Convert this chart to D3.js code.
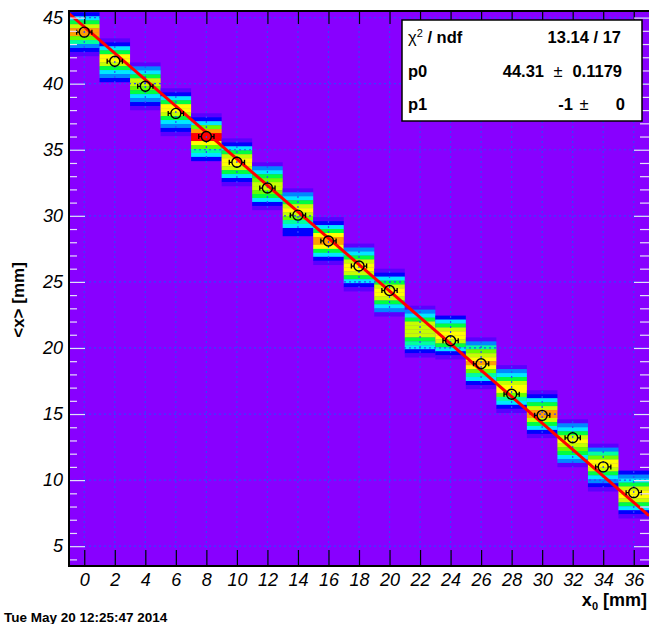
<html>
  <head>
    <script src="https://d3js.org/d3.v7.min.js"></script>
    <style>
      body { margin: 0; background: #fff; }
      text { font-family: "Liberation Sans", Arial, sans-serif; }
    </style>
  </head>
  <body>
    <svg id="chart" width="649" height="624"></svg>
    <script>
      // bin centres along x0 (2 mm bins)
      const xCenters = [0, 2, 4, 6, 8, 10, 12, 14, 16, 18, 20, 22, 24, 26, 28, 30, 32, 34, 36];
      // profile means <x>, read off the markers (22 has no marker)
      const meanY = [43.9, 41.7, 39.8, 37.75, 36.0, 34.05, 32.1, 30.05, 28.1, 26.2, 24.35, null, 20.55, 18.8, 16.5, 14.9, 13.2, 11.0, 9.05];
      // top edge (in <x>) of the filled block of each column
      const colTop = [45.4, 43.43, 41.61, 39.65, 37.76, 35.86, 34.05, 32.08, 29.9, 27.9, 26.0, 23.2, 22.45, 20.8, 18.7, 16.8, 14.6, 12.76, 10.72];
      // colour level of each y bin, top to bottom (0 = empty)
      const colLevels = [
        [2, 4, 6, 8, 10, 10, 7, 5, 3, 2, 1],
        [1, 2, 4, 6, 9, 9, 8, 6, 4, 3, 2],
        [1, 3, 4, 6, 8, 8, 7, 6, 4, 3, 2, 1],
        [1, 2, 4, 6, 9, 9, 8, 6, 4, 3, 2, 1],
        [1, 2, 4, 7, 10, 11, 11, 9, 7, 5, 4, 2],
        [1, 2, 4, 6, 8, 9, 9, 8, 6, 4, 2, 1],
        [1, 3, 4, 6, 7, 8, 8, 7, 6, 4, 2, 1],
        [1, 3, 4, 6, 8, 9, 8, 7, 5, 4, 2, 2],
        [1, 2, 4, 6, 9, 10, 10, 9, 6, 4, 2, 1],
        [1, 3, 4, 6, 8, 9, 9, 8, 6, 4, 2, 1],
        [1, 2, 4, 6, 8, 9, 9, 8, 6, 4, 3, 1],
        [1, 3, 4, 6, 8, 8, 8, 8, 6, 5, 4, 2, 1],
        [2, 4, 6, 8, 9, 9, 8, 6, 4, 2, 1],
        [1, 3, 5, 7, 8, 9, 10, 9, 7, 5, 4, 2, 1],
        [1, 3, 4, 6, 8, 9, 9, 7, 5, 4, 2, 1],
        [1, 2, 4, 6, 8, 10, 10, 8, 6, 4, 2, 1],
        [1, 3, 4, 6, 8, 9, 8, 7, 6, 4, 3, 1],
        [1, 3, 5, 7, 9, 9, 8, 6, 4, 3, 2, 1],
        [2, 3, 4, 6, 8, 9, 9, 8, 6, 4, 2, 1]
      ];
      const binH = 0.3;
      const fitP0 = 44.31, fitP1 = -1;
      const xTicks = d3.range(0, 37, 2);
      const yTicks = [5, 10, 15, 20, 25, 30, 35, 40, 45];
      const yMinor = d3.range(4, 46, 1);

      const palette = ["#8800ff", "#5a00ff", "#0000ff", "#0088ff", "#00e8ff", "#00ffa0",
                       "#00ff40", "#66ff00", "#c4ff00", "#ffff00", "#ffa000", "#ff0000"];

      const svg = d3.select("#chart");
      const L = 69, R = 649, T = 11, B = 566;

      const x = d3.scaleLinear().domain([-1, 37]).range([L, R]);
      const y = d3.scaleLinear().domain([3.5, 45.5]).range([B, T]);

      svg.append("clipPath").attr("id", "frame")
        .append("rect").attr("x", L).attr("y", T).attr("width", R - L).attr("height", B - T);

      const plot = svg.append("g").attr("clip-path", "url(#frame)");

      plot.append("rect")
        .attr("x", L).attr("y", T).attr("width", R - L).attr("height", B - T)
        .style("fill", palette[0]);

      // 2D histogram cells
      const cells = [];
      xCenters.forEach((c, i) => {
        colLevels[i].forEach((lv, j) => {
          cells.push({ x0: c - 1, x1: c + 1, yTop: colTop[i] - j * binH, yBot: colTop[i] - (j + 1) * binH, lv: lv });
        });
      });

      plot.selectAll("rect.cell")
        .data(cells)
        .join("rect")
        .attr("class", "cell")
        .attr("x", d => x(d.x0))
        .attr("width", d => x(d.x1) - x(d.x0))
        .attr("y", d => y(d.yTop))
        .attr("height", d => y(d.yBot) - y(d.yTop) + 0.3)
        .style("fill", d => palette[d.lv]);

      // tick marks
      const tickColor = "#e6ddfa";
      svg.append("g").attr("transform", `translate(0,${B})`)
        .call(d3.axisBottom(x).tickValues(xTicks).tickSizeInner(-16).tickSizeOuter(0).tickPadding(7)
          .tickFormat(d3.format("d")))
        .call(g => g.select(".domain").remove())
        .call(g => g.selectAll("line").style("stroke", "#000").style("stroke-width", 1.2))
        .call(g => g.selectAll("text").style("font-size", "18px").style("font-style", "italic").style("fill", "#000"));

      svg.append("g").attr("transform", `translate(0,${T})`)
        .call(d3.axisTop(x).tickValues(xTicks).tickSizeInner(-13).tickSizeOuter(0).tickFormat(""))
        .call(g => g.select(".domain").remove())
        .call(g => g.selectAll("line").style("stroke", "#000").style("stroke-width", 1.2));

      svg.append("g").attr("transform", `translate(${L},0)`)
        .call(d3.axisLeft(y).tickValues(yMinor.filter(v => v % 5 !== 0)).tickSizeInner(-8).tickSizeOuter(0).tickFormat(""))
        .call(g => g.select(".domain").remove())
        .call(g => g.selectAll("line").style("stroke", tickColor).style("stroke-width", 1.2));

      svg.append("g").attr("transform", `translate(${L},0)`)
        .call(d3.axisLeft(y).tickValues(yTicks).tickSizeInner(-16).tickSizeOuter(0).tickPadding(6))
        .call(g => g.select(".domain").remove())
        .call(g => g.selectAll("line").style("stroke", tickColor).style("stroke-width", 1.2))
        .call(g => g.selectAll("text").style("font-size", "18px").style("font-style", "italic").style("fill", "#000"));

      svg.append("g").attr("transform", `translate(${R},0)`)
        .call(d3.axisRight(y).tickValues(yMinor.filter(v => v % 5 !== 0)).tickSizeInner(-9).tickSizeOuter(0).tickFormat(""))
        .call(g => g.select(".domain").remove())
        .call(g => g.selectAll("line").style("stroke", tickColor).style("stroke-width", 1.2));

      svg.append("g").attr("transform", `translate(${R},0)`)
        .call(d3.axisRight(y).tickValues(yTicks).tickSizeInner(-15).tickSizeOuter(0).tickFormat(""))
        .call(g => g.select(".domain").remove())
        .call(g => g.selectAll("line").style("stroke", tickColor).style("stroke-width", 1.2));

      // dotted grid
      const grid = plot.append("g");
      grid.selectAll("line.gx").data(xTicks).join("line")
        .attr("class", "gx")
        .attr("x1", d => x(d)).attr("x2", d => x(d))
        .attr("y1", T).attr("y2", B);
      grid.selectAll("line.gy").data(yTicks).join("line")
        .attr("class", "gy")
        .attr("x1", L).attr("x2", R)
        .attr("y1", d => y(d)).attr("y2", d => y(d));
      grid.selectAll("line")
        .style("stroke", "#2f46ff")
        .style("stroke-width", 1.2)
        .style("stroke-dasharray", "2,3");

      // fit line
      const fitLine = d3.line().x(d => x(d)).y(d => y(fitP0 + fitP1 * d));
      plot.append("path")
        .datum([-1, 37])
        .attr("d", fitLine)
        .style("fill", "none")
        .style("stroke", "#ff0000")
        .style("stroke-width", 3);

      // profile markers with x errors
      const pts = xCenters.map((c, i) => ({ c: c, m: meanY[i] })).filter(d => d.m !== null);
      const mk = plot.selectAll("g.pt").data(pts).join("g")
        .attr("class", "pt")
        .attr("transform", d => `translate(${x(d.c)},${y(d.m)})`);
      const ex = x(0.5) - x(0);
      mk.append("path")
        .attr("d", `M${-ex},0H-5M5,0H${ex}M${-ex},-2.5V2.5M${ex},-2.5V2.5`)
        .style("stroke", "#000").style("stroke-width", 1.3).style("fill", "none");
      mk.append("circle")
        .attr("r", 5)
        .style("fill", "none").style("stroke", "#000").style("stroke-width", 1.4);

      // frame
      svg.append("path")
        .attr("d", `M${R},${T}H${L}V${B}H${R}`)
        .style("fill", "none").style("stroke", "#000").style("stroke-width", 2);

      // stats box
      const sb = svg.append("g");
      sb.append("rect")
        .attr("x", 402).attr("y", 20).attr("width", 240).attr("height", 101)
        .style("fill", "#fff").style("stroke", "#000").style("stroke-width", 1.5);
      const st = (xx, yy, txt, anchor) => sb.append("text")
        .attr("x", xx).attr("y", yy).attr("text-anchor", anchor || "start")
        .style("font-size", "16.5px").style("font-weight", "bold").text(txt);
      const chi = sb.append("text").attr("x", 408).attr("y", 43)
        .style("font-size", "16.5px").style("font-weight", "bold");
      chi.append("tspan").style("font-weight", "normal").text("χ");
      chi.append("tspan").attr("dy", -6).style("font-size", "11px").style("font-weight", "normal").text("2");
      chi.append("tspan").attr("dy", 6).text(" / ndf");
      st(621, 43, "13.14 / 17", "end");
      st(408, 77, "p0");
      st(544, 77, "44.31", "end");
      st(558, 77, "±", "middle").style("font-weight", "normal");
      st(622, 77, "0.1179", "end");
      st(408, 110, "p1");
      st(573, 110, "-1", "end");
      st(584, 110, "±", "middle").style("font-weight", "normal");
      st(625, 110, "0", "end");

      // axis titles
      const xt = svg.append("text").attr("x", 647).attr("y", 606).attr("text-anchor", "end")
        .style("font-size", "18px").style("font-weight", "bold");
      xt.append("tspan").text("x");
      xt.append("tspan").attr("dy", 4).style("font-size", "11px").text("0");
      xt.append("tspan").attr("dy", -4).text(" [mm]");

      svg.append("text")
        .attr("transform", "translate(24,300) rotate(-90)")
        .attr("text-anchor", "middle")
        .style("font-size", "17px").style("font-weight", "bold")
        .text("<x> [mm]");

      svg.append("text").attr("x", 4).attr("y", 622)
        .style("font-size", "13.5px").style("font-weight", "bold")
        .text("Tue May 20 12:25:47 2014");
    </script>
  </body>
</html>
